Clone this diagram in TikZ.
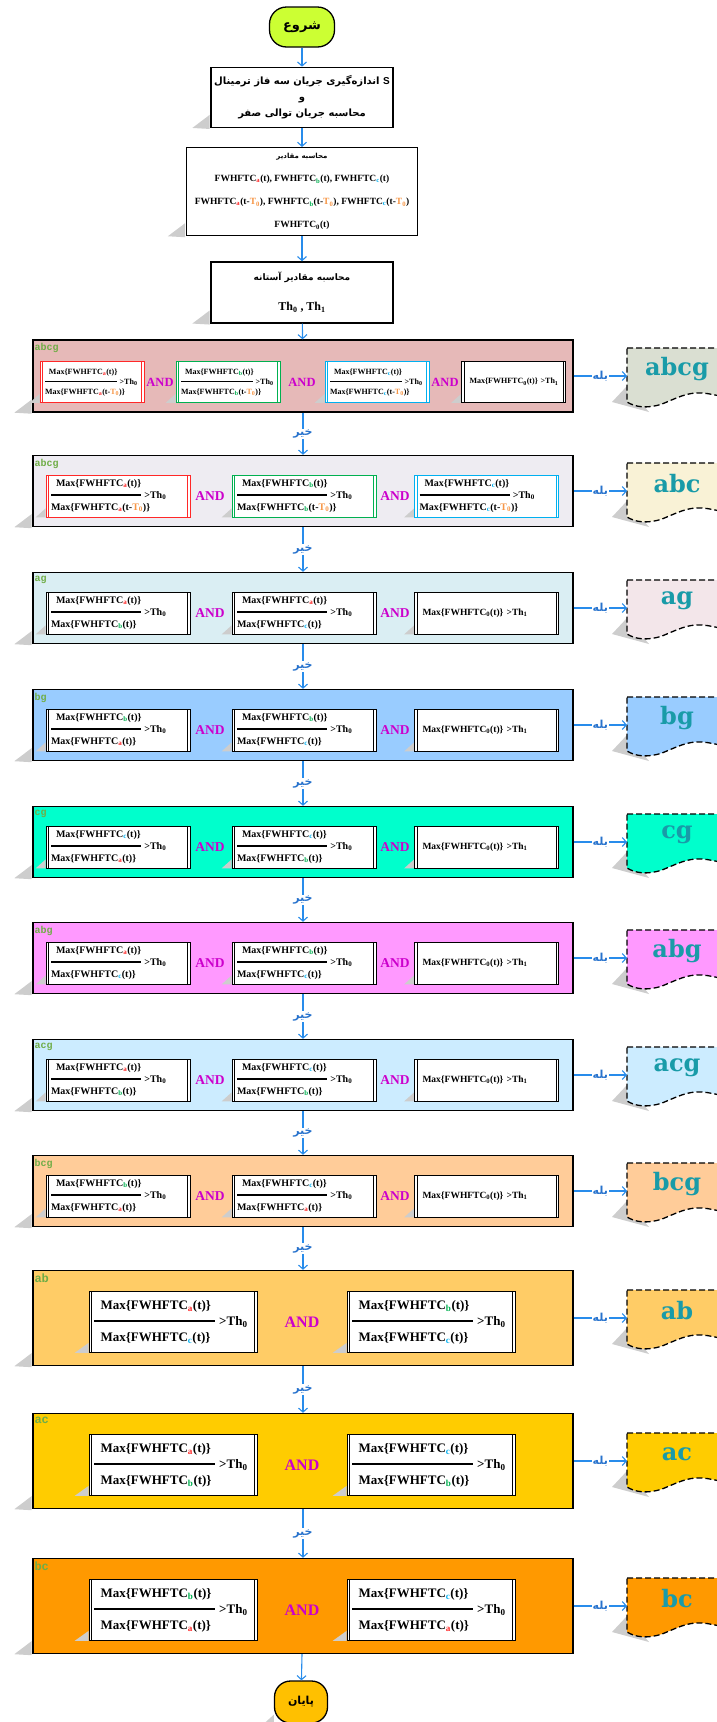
\documentclass[tikz,border=0pt]{standalone}
\usepackage{fontspec}
\setmainfont{Liberation Serif}
\newfontfamily\fa[Script=Arabic]{DejaVu Sans}
\newfontfamily\lblfont{Liberation Mono}
\newfontfamily\docfont{DejaVu Serif}
\newfontfamily\arial{Liberation Sans}
\TeXXeTstate=1
\usepackage{tikz}
\usetikzlibrary{positioning, arrows.meta, calc}

\definecolor{flow}{RGB}{40,140,235}
\definecolor{yescol}{RGB}{40,115,205}
\definecolor{andcol}{RGB}{204,0,204}
\definecolor{lblcol}{RGB}{112,173,71}
\definecolor{doccol}{RGB}{25,155,168}
\definecolor{sa}{RGB}{255,40,40}
\definecolor{sb}{RGB}{0,176,80}
\definecolor{sc}{RGB}{0,176,240}
\definecolor{st}{RGB}{247,150,70}
\definecolor{shd}{RGB}{205,205,205}
\definecolor{startcol}{RGB}{204,255,51}
\definecolor{endcol}{RGB}{255,192,0}
\definecolor{bandA}{RGB}{230,185,184}
\definecolor{bandB}{RGB}{238,236,242}
\definecolor{bandC}{RGB}{218,238,243}
\definecolor{bandD}{RGB}{153,204,255}
\definecolor{bandE}{RGB}{0,255,204}
\definecolor{bandF}{RGB}{255,153,255}
\definecolor{bandG}{RGB}{204,236,255}
\definecolor{bandH}{RGB}{255,204,153}
\definecolor{bandI}{RGB}{255,204,102}
\definecolor{bandJ}{RGB}{255,204,0}
\definecolor{bandK}{RGB}{255,153,0}
\definecolor{docA}{RGB}{218,223,210}
\definecolor{docB}{RGB}{249,242,214}
\definecolor{docC}{RGB}{243,230,234}

\pgfdeclarelayer{bands}
\pgfdeclarelayer{shade}
\pgfsetlayers{bands,shade,main}

\newcommand{\sbA}{\textsubscript{\textcolor{sa}{a}}}
\newcommand{\sbB}{\textsubscript{\textcolor{sb}{b}}}
\newcommand{\sbC}{\textsubscript{\textcolor{sc}{c}}}
\newcommand{\Tz}{\textcolor{st}{T\textsubscript{0}}}
\newcommand{\Mx}[1]{Max\{FWHFTC#1(t)\}}
\newcommand{\Md}[1]{Max\{FWHFTC#1(t-\Tz)\}}
\newcommand{\ratio}[2]{\begin{tabular}{@{}l@{}}\hspace{0.5em}#1\\\rule[0.6ex]{9em}{0.12em}\,\,>Th\textsubscript{0}\\#2\end{tabular}}
\newcommand{\ratioL}[2]{\begin{tabular}{@{}l@{}}\hspace{0.5em}#1\\\rule[0.6ex]{9.3em}{0.1em}\,\,>Th\textsubscript{0}\\\hspace{0.5em}#2\end{tabular}}
\newcommand{\gz}{\hspace{3pt}Max\{FWHFTC\textsubscript{0}(t)\}\,\,>Th\textsubscript{1}}

\tikzset{
  flowline/.style={draw=flow, line width=1.1pt, -{Straight Barb[length=4pt,width=9pt]}},
  proc/.style={draw, line width=1.3pt, fill=white, align=center, inner sep=2pt},
  term/.style={draw, line width=1.3pt, rounded corners=17pt, font=\fa\bfseries\fontsize{13}{15}\selectfont},
  band/.style={draw, line width=1.4pt, minimum width=540pt},
  pbox/.style={draw=#1, line width=0.8pt, fill=white, inner xsep=5pt, inner ysep=0pt, align=left,
    path picture={\draw[#1, line width=0.8pt]
      ([xshift=2.5pt]path picture bounding box.north west) -- ([xshift=2.5pt]path picture bounding box.south west)
      ([xshift=-2.5pt]path picture bounding box.north east) -- ([xshift=-2.5pt]path picture bounding box.south east);}},
  pbox/.default=black,
  smallbox/.style={minimum width=104pt, minimum height=41pt, text width=94pt, font=\fontsize{8}{10}\selectfont\bfseries},
  midbox/.style={minimum width=144pt, minimum height=42pt, text width=134pt, font=\fontsize{10}{12}\selectfont\bfseries},
  bigbox/.style={minimum width=168pt, minimum height=61pt, text width=158pt, font=\fontsize{13}{16}\selectfont\bfseries},
  andlbl/.style={text=andcol, font=\bfseries\fontsize{13.5}{15}\selectfont, inner sep=1pt},
  nolbl/.style={text=yescol, font=\fa\bfseries\fontsize{11}{13}\selectfont, fill=white, inner sep=1pt},
  lbl/.style={anchor=north west, text=lblcol, font=\lblfont\bfseries\fontsize{10}{12}\selectfont, inner sep=1pt},
  docline/.style={draw, line width=1.3pt, dash pattern=on 6pt off 3pt},
  doctext/.style={text=doccol, font=\docfont\bfseries\fontsize{24}{26}\selectfont}
}

% document shape at the right of a band
\newcommand{\docat}[4]{%
  \begin{scope}[shift={(627,#2-28)}]
    \fill[shd] (0,38) -- (-15,54) -- (22,64) -- cycle;
    \draw[docline, fill=#3] (0,0) -- (125,0) -- (125,50)
      .. controls (100,52) and (90,46) .. (75,45)
      .. controls (60,44) and (50,50) .. (35,56)
      .. controls (20,61) and (8,59) .. (0,54) -- cycle;
  \end{scope}
  \coordinate (#1w) at (627,#2);
  \node[doctext] (#1) at (677,#2-7) {#4};}

% band with two ratio boxes and the zero sequence box
\newcommand{\triband}[9]{%
  \begin{pgfonlayer}{bands}
    \node[band, fill=#4, minimum height=71pt] (s#1) at (303,#2) {};
  \end{pgfonlayer}
  \node[lbl] (l#1) at ([xshift=1pt,yshift=-3pt]s#1.north west) {#3};
  \node[pbox, midbox] (b#1a) at (118,#2+5) {\ratio{\Mx{#6}}{\Mx{#7}}};
  \node[andlbl] (n#1a) at (210,#2+5) {AND};
  \node[pbox, midbox] (b#1b) at (304,#2+5) {\ratio{\Mx{#8}}{\Mx{#9}}};
  \node[andlbl] (n#1b) at (395,#2+5) {AND};
  \node[pbox, midbox, font=\fontsize{9.5}{11}\selectfont\bfseries] (b#1c) at (486.5,#2+5) {\gz};
  \docat{d#1}{#2}{#5}{#3}}

% band with two ratio boxes
\newcommand{\duoband}[8]{%
  \begin{pgfonlayer}{bands}
    \node[band, fill=#4, minimum height=95pt] (s#1) at (303,#2) {};
  \end{pgfonlayer}
  \node[lbl, font=\lblfont\bfseries\fontsize{12}{14}\selectfont] (l#1) at ([xshift=1pt,yshift=-3pt]s#1.north west) {#3};
  \node[pbox, bigbox] (b#1a) at (173,#2+4) {\ratioL{\Mx{#5}}{\Mx{#6}}};
  \node[andlbl, font=\bfseries\fontsize{16}{18}\selectfont] (n#1a) at (302,#2+4) {AND};
  \node[pbox, bigbox] (b#1b) at (431,#2+4) {\ratioL{\Mx{#7}}{\Mx{#8}}};
  \docat{d#1}{#2}{#4}{#3}}

\begin{document}
\begin{tikzpicture}[x=1pt, y=-1pt]
  \useasboundingbox (0,0) rectangle (717,1722);
  \clip (0,0) rectangle (717,1722);

  \node[term, fill=startcol, minimum width=65pt, minimum height=40pt] (start) at (302,27) {\beginR شروع\endR};
  \node[proc, minimum width=182pt, minimum height=60pt, below=19pt of start,
        font=\fa\bfseries\fontsize{10}{16}\selectfont] (meas)
        {\beginR اندازه‌گیری جریان سه فاز ترمینال\endR{} {\arial S}\\و\\\beginR محاسبه جریان توالی صفر\endR};
  \node[proc, minimum width=231pt, minimum height=88pt, below=19pt of meas,
        font=\fontsize{9.5}{23}\selectfont\bfseries] (calc)
        {{\fa\fontsize{7}{9}\selectfont\beginR محاسبه مقادیر\endR}\\
         FWHFTC\sbA(t), FWHFTC\sbB(t), FWHFTC\sbC(t)\\
         FWHFTC\sbA(t-\Tz), FWHFTC\sbB(t-\Tz), FWHFTC\sbC(t-\Tz)\\
         FWHFTC\textsubscript{0}(t)};
  \node[proc, minimum width=182pt, minimum height=61pt, below=25pt of calc,
        font=\fontsize{12}{30}\selectfont\bfseries] (thr)
        {{\fa\fontsize{9}{11}\selectfont\beginR محاسبه مقادیر آستانه\endR}\\
         Th\textsubscript{0} , Th\textsubscript{1}};

  % first band, four boxes
  \begin{pgfonlayer}{bands}
    \node[band, fill=bandA, minimum height=72pt] (s1) at (303,376) {};
  \end{pgfonlayer}
  \node[lbl] (l1) at ([xshift=1pt,yshift=-3pt]s1.north west) {abcg};
  \node[pbox=sa, smallbox] (b1a) at (92,382) {\ratio{\Mx{\sbA}}{\Md{\sbA}}};
  \node[andlbl, font=\bfseries\fontsize{12.5}{14}\selectfont] (n1a) at (160,382) {AND};
  \node[pbox=sb, smallbox] (b1b) at (228,382) {\ratio{\Mx{\sbB}}{\Md{\sbB}}};
  \node[andlbl, font=\bfseries\fontsize{12.5}{14}\selectfont] (n1b) at (302,382) {AND};
  \node[pbox=sc, smallbox] (b1c) at (377,382) {\ratio{\Mx{\sbC}}{\Md{\sbC}}};
  \node[andlbl, font=\bfseries\fontsize{12.5}{14}\selectfont] (n1c) at (445,382) {AND};
  \node[pbox, smallbox, font=\fontsize{8}{10}\selectfont\bfseries] (b1d) at (513.5,382) {\gz};
  \docat{d1}{376}{docA}{abcg}

  % second band, three boxes
  \begin{pgfonlayer}{bands}
    \node[band, fill=bandB, minimum height=71pt] (s2) at (303,491) {};
  \end{pgfonlayer}
  \node[lbl] (l2) at ([xshift=1pt,yshift=-3pt]s2.north west) {abcg};
  \node[pbox=sa, midbox] (b2a) at (118,496) {\ratio{\Mx{\sbA}}{\Md{\sbA}}};
  \node[andlbl] (n2a) at (210,496) {AND};
  \node[pbox=sb, midbox] (b2b) at (304,496) {\ratio{\Mx{\sbB}}{\Md{\sbB}}};
  \node[andlbl] (n2b) at (395,496) {AND};
  \node[pbox=sc, midbox] (b2c) at (486.5,496) {\ratio{\Mx{\sbC}}{\Md{\sbC}}};
  \docat{d2}{491}{docB}{abc}

  \triband{3}{608}{ag}{bandC}{docC}{\sbA}{\sbB}{\sbA}{\sbC}
  \triband{4}{725}{bg}{bandD}{bandD}{\sbB}{\sbA}{\sbB}{\sbC}
  \triband{5}{842}{cg}{bandE}{bandE}{\sbC}{\sbA}{\sbC}{\sbB}
  \triband{6}{958}{abg}{bandF}{bandF}{\sbA}{\sbC}{\sbB}{\sbC}
  \triband{7}{1075}{acg}{bandG}{bandG}{\sbA}{\sbB}{\sbC}{\sbB}
  \triband{8}{1191}{bcg}{bandH}{bandH}{\sbB}{\sbA}{\sbC}{\sbA}
  \duoband{9}{1318}{ab}{bandI}{\sbA}{\sbC}{\sbB}{\sbC}
  \duoband{10}{1461}{ac}{bandJ}{\sbA}{\sbB}{\sbC}{\sbB}
  \duoband{11}{1606}{bc}{bandK}{\sbB}{\sbA}{\sbC}{\sbA}

  \node[term, fill=endcol, minimum width=53pt, minimum height=42pt, rounded corners=16pt,
        font=\fa\bfseries\fontsize{11}{13}\selectfont] (stop) at (301,1702) {\beginR پایان\endR};

  % shadows
  \begin{pgfonlayer}{shade}
    \foreach \n in {meas,calc,thr,s1,s2,s3,s4,s5,s6,s7,s8,s9,s10,s11}
      \fill[shd] ([xshift=-0.8pt,yshift=13pt]\n.south west) -- ([xshift=-18pt]\n.south west)
        -- ([xshift=-0.8pt,yshift=-1pt]\n.south west) -- cycle;
    \foreach \n in {b1a,b1b,b1c,b1d,b2a,b2b,b2c,b3a,b3b,b3c,b4a,b4b,b4c,b5a,b5b,b5c,
                    b6a,b6b,b6c,b7a,b7b,b7c,b8a,b8b,b8c,stop}
      \fill[shd] ([yshift=9pt]\n.south west) -- ([xshift=-10pt]\n.south west) -- (\n.south west) -- cycle;
    \foreach \n in {b9a,b9b,b10a,b10b,b11a,b11b}
      \fill[shd] ([yshift=10pt]\n.south west) -- ([xshift=-14pt]\n.south west) -- (\n.south west) -- cycle;
  \end{pgfonlayer}

  % connectors
  \draw[flowline] (start) -- (meas);
  \draw[flowline] (meas) -- (calc);
  \draw[flowline] (calc) -- (thr);
  \draw[flowline] (thr) -- (s1);
  \foreach \i/\j in {1/2,2/3,3/4,4/5,5/6,6/7,7/8,8/9,9/10,10/11}
    \draw[flowline] (s\i) -- node[nolbl] {\beginR خیر\endR} (s\j);
  \draw[flowline] (s11) -- (stop);
  \foreach \i in {1,...,11}
    \draw[flowline] (s\i) -- node[nolbl] {\beginR بله\endR} (d\i w);
\end{tikzpicture}
\end{document}
